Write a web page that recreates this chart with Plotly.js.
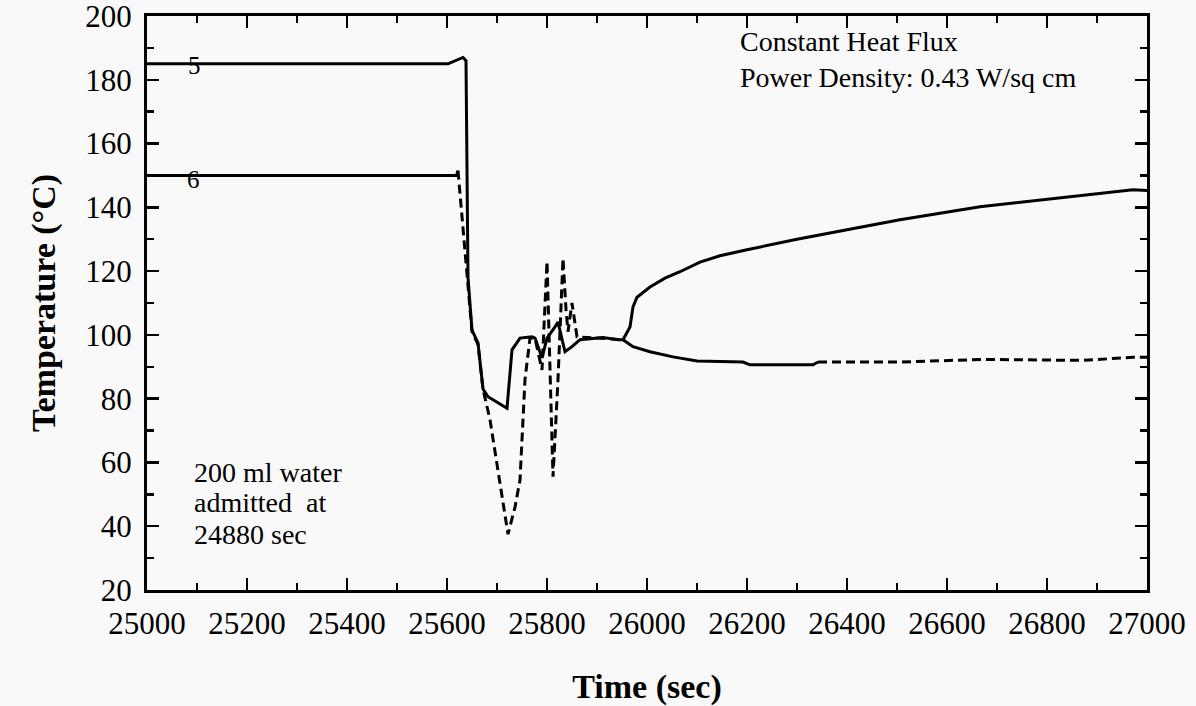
<!DOCTYPE html>
<html>
<head>
<meta charset="utf-8">
<script src="https://cdn.plot.ly/plotly-3.0.1.min.js"></script>
<style>html,body{margin:0;padding:0;background:#f9f9f9;}</style>
</head>
<body>
<div id="chart" style="width:1196px;height:706px;"></div>
<script>
// Thermocouple 5 (solid)
const t5 = [25000, 25602, 25632, 25638, 25642, 25650, 25662, 25672, 25682, 25720, 25730, 25746, 25770, 25776, 25790, 25800, 25816, 25822, 25836, 25850, 25866, 25912, 25942, 25952, 25966, 25972, 25980, 25996, 26006, 26036, 26066, 26106, 26146, 26200, 26300, 26400, 26506, 26666, 26972, 27000];
const v5 = [185, 185, 187, 186, 118, 101.5, 97.5, 83, 80.6, 77, 95.3, 99, 99.4, 99, 92.8, 99, 102.5, 104, 94.7, 96.3, 98.5, 99.2, 98.5, 98.5, 102.5, 108.8, 111.8, 113.8, 115, 117.8, 119.8, 122.8, 124.8, 126.7, 130, 133, 136.1, 140.2, 145.5, 145.3];

// Thermocouple 6, in segments
const t6a = [25000, 25619, 25622];
const v6a = [150, 150, 151.5];
const t6b = [25622, 25624, 25642, 25650, 25662, 25672, 25686, 25722, 25736, 25746, 25756, 25762, 25766, 25776, 25790, 25800, 25806, 25812, 25822, 25832, 25838, 25842, 25850, 25860, 25952];
const v6b = [151.5, 148, 114, 101, 97, 83, 73.4, 37.5, 46, 54.5, 86, 93, 99, 99, 89, 123, 86, 55.5, 86, 124, 108, 101, 110, 99.4, 98.5];
const t6c = [25952, 25972, 26006, 26052, 26100, 26192, 26206, 26332, 26342];
const v6c = [98.5, 96.3, 94.7, 93.1, 91.8, 91.5, 90.6, 90.6, 91.5];
const t6d = [26342, 26506, 26672, 26872, 26972, 27000];
const v6d = [91.5, 91.5, 92.3, 92.0, 93, 93];

const xTicks = [25000, 25200, 25400, 25600, 25800, 26000, 26200, 26400, 26600, 26800, 27000];
const yTicks = [20, 40, 60, 80, 100, 120, 140, 160, 180, 200];

const xTitle = 'Time (sec)';
const yTitle = 'Temperature (°C)';

const FONT = 'Liberation Serif, Times New Roman, serif';
const solid = {color: '#000', width: 3};
const dashed = {color: '#000', width: 3, dash: '9px,5px'};

const traces = [
  {x: t5, y: v5, mode: 'lines', line: solid, name: '5'},
  {x: t6a, y: v6a, mode: 'lines', line: solid, name: '6'},
  {x: t6b, y: v6b, mode: 'lines', line: dashed, name: '6'},
  {x: t6c, y: v6c, mode: 'lines', line: solid, name: '6'},
  {x: t6d, y: v6d, mode: 'lines', line: dashed, name: '6'}
];

const annFont = {family: FONT, size: 28, color: '#000'};
const annotations = [
  {x: 25094, y: 184.5, text: '5', font: {family: FONT, size: 25, color: '#000'}},
  {x: 25092, y: 148.7, text: '6', font: {family: FONT, size: 25, color: '#000'}},
  {x: 26182, y: 192, text: 'Constant Heat Flux', xanchor: 'left', font: annFont},
  {x: 26182, y: 180.7, text: 'Power Density: 0.43 W/sq cm', xanchor: 'left', font: annFont},
  {x: 25090, y: 57, text: '200 ml water', xanchor: 'left', font: annFont},
  {x: 25090, y: 47.3, text: 'admitted&nbsp; at', xanchor: 'left', font: annFont},
  {x: 25090, y: 37.3, text: '24880 sec', xanchor: 'left', font: annFont}
].map(a => Object.assign({xref: 'x', yref: 'y', showarrow: false}, a));

const layout = {
  width: 1196, height: 706,
  margin: {l: 147, r: 49, t: 16, b: 116},
  paper_bgcolor: '#f9f9f9', plot_bgcolor: '#f9f9f9',
  showlegend: false,
  font: {family: FONT, size: 31, color: '#000'},
  xaxis: {
    range: [25000, 27000], tickmode: 'array', tickvals: xTicks, ticktext: xTicks.map(String),
    showline: true, linecolor: '#000', linewidth: 3, mirror: 'ticks',
    ticks: 'inside', ticklen: 12, tickwidth: 2.5, tickcolor: '#000',
    minor: {ticks: 'inside', dtick: 100, tick0: 25000, ticklen: 7, tickwidth: 2.5, tickcolor: '#000'},
    showgrid: false, zeroline: false, ticklabelstandoff: 4, ticklabeloverflow: 'allow',
    tickfont: {family: FONT, size: 31, color: '#000'},
    title: {text: '<b>' + xTitle + '</b>', font: {family: FONT, size: 34, color: '#000'}, standoff: 36}
  },
  yaxis: {
    range: [20, 200], tickmode: 'array', tickvals: yTicks, ticktext: yTicks.map(String),
    showline: true, linecolor: '#000', linewidth: 3, mirror: 'ticks',
    ticks: 'inside', ticklen: 12, tickwidth: 2.5, tickcolor: '#000',
    minor: {ticks: 'inside', dtick: 10, tick0: 20, ticklen: 7, tickwidth: 2.5, tickcolor: '#000'},
    showgrid: false, zeroline: false, ticklabelstandoff: 6, ticklabeloverflow: 'allow',
    tickfont: {family: FONT, size: 31, color: '#000'},
    title: {text: '<b>' + yTitle + '</b>', font: {family: FONT, size: 34, color: '#000'}, standoff: 20}
  },
  annotations: annotations
};

Plotly.newPlot('chart', traces, layout, {displayModeBar: false, staticPlot: true});
</script>
</body>
</html>
